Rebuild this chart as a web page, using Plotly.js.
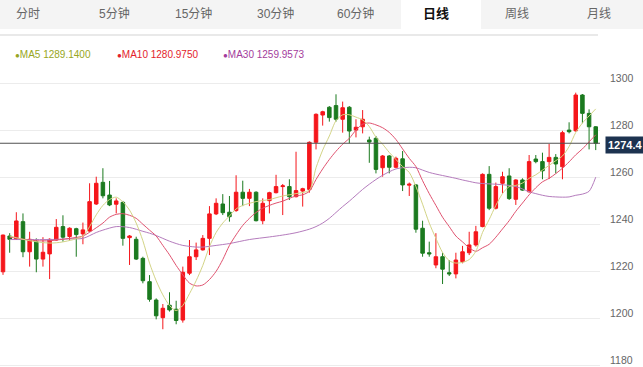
<!DOCTYPE html>
<html>
<head>
<meta charset="utf-8">
<script src="https://cdn.plot.ly/plotly-3.0.1.min.js"></script>
<style>
  html, body { margin: 0; padding: 0; background: #fff; }
  #chart { width: 643px; height: 367px; }
</style>
</head>
<body>
<div id="chart"></div>
<script>
// ---- Tabs & legend text ----
const tabLabels = ["分时", "5分钟", "15分钟", "30分钟", "60分钟", "日线", "周线", "月线"];
const activeTab = "日线";
const legendNames = ["MA5", "MA10", "MA30"];
const legendValues = ["1289.1400", "1280.9750", "1259.9573"];
const yTicks = [1180, 1200, 1220, 1240, 1260, 1280, 1300];
const lastPrice = 1274.4;

// ---- Daily candles (red = up, green = down) ----
const open  = [1219.8,1235.0,1233.6,1241.1,1228.3,1232.6,1225.2,1227.4,1233.3,1239.0,
               1234.8,1238.1,1235.9,1237.1,1248.6,1257.8,1252.4,1248.5,1249.3,1234.3,
               1233.6,1225.5,1215.6,1207.8,1200.3,1205.6,1203.9,1199.3,1219.2,1226.2,
               1229.1,1234.0,1244.4,1248.6,1245.1,1245.8,1253.6,1251.0,1253.6,1241.5,
               1250.0,1253.4,1256.0,1256.0,1251.7,1254.1,1254.8,1274.8,1286.4,1289.7,
               1290.4,1284.6,1289.7,1280.0,1281.4,1275.8,1276.5,1264.0,1269.0,1264.2,
               1267.8,1256.6,1256.7,1238.3,1227.9,1222.7,1226.2,1219.4,1218.9,1224.1,
               1227.9,1231.2,1239.0,1261.2,1246.8,1257.4,1260.5,1250.6,1258.8,1253.8,
               1267.7,1266.6,1266.6,1268.4,1264.4,1280.0,1279.7,1294.9,1287.1,1281.4];
const high  = [1235.6,1236.2,1245.1,1244.6,1236.8,1234.0,1234.5,1234.0,1242.2,1243.8,
               1238.7,1238.5,1240.7,1257.4,1260.2,1263.8,1258.4,1251.0,1249.9,1235.4,
               1234.7,1226.2,1218.4,1208.5,1206.1,1211.1,1207.5,1222.0,1233.3,1232.2,
               1235.4,1247.7,1251.0,1252.8,1252.0,1260.8,1258.5,1255.0,1254.0,1251.0,
               1253.8,1261.0,1257.1,1259.1,1270.8,1255.5,1275.2,1287.1,1288.2,1290.2,
               1295.2,1292.1,1290.2,1284.6,1288.5,1277.2,1277.5,1269.4,1269.4,1268.7,
               1271.1,1257.7,1257.1,1241.5,1232.6,1236.2,1227.9,1224.8,1227.9,1230.8,
               1236.8,1239.3,1261.6,1264.7,1257.7,1262.3,1263.8,1259.1,1259.5,1269.4,
               1269.4,1270.4,1274.1,1269.8,1279.7,1283.3,1295.9,1295.3,1288.8,1281.7];
const low   = [1218.5,1227.9,1233.3,1226.0,1222.0,1219.6,1222.0,1216.7,1233.0,1232.6,
               1233.0,1226.2,1231.5,1236.8,1248.2,1251.0,1247.7,1244.6,1230.9,1222.7,
               1224.8,1214.9,1207.1,1199.6,1195.4,1202.9,1197.5,1198.2,1218.4,1224.8,
               1228.8,1226.9,1243.9,1243.9,1241.1,1245.3,1247.7,1247.7,1241.2,1240.0,
               1244.6,1253.1,1243.9,1250.3,1251.4,1247.5,1253.4,1271.8,1281.9,1283.6,
               1283.6,1278.9,1274.4,1276.9,1278.6,1266.1,1261.6,1260.2,1261.6,1263.8,
               1254.1,1252.0,1236.4,1226.2,1226.2,1221.3,1214.6,1218.0,1217.0,1223.4,
               1226.9,1230.5,1238.7,1246.0,1246.3,1253.1,1250.3,1248.2,1254.2,1253.4,
               1265.9,1259.1,1259.2,1261.6,1259.1,1278.6,1279.3,1282.9,1271.8,1271.5];
const close = [1235.4,1233.6,1241.4,1228.3,1233.6,1225.2,1228.1,1233.6,1238.7,1234.5,
               1238.3,1235.6,1237.6,1249.6,1257.4,1252.1,1248.2,1249.9,1234.0,1235.0,
               1225.2,1216.0,1208.1,1201.1,1204.3,1203.6,1199.1,1219.6,1226.2,1229.1,
               1234.0,1244.4,1248.9,1244.9,1243.2,1253.6,1251.0,1253.6,1241.5,1248.9,
               1253.4,1256.0,1256.3,1251.7,1254.3,1255.1,1274.8,1286.7,1287.8,1285.3,
               1284.6,1289.5,1279.6,1281.2,1284.6,1274.9,1263.3,1269.0,1264.2,1268.0,
               1256.7,1257.0,1237.9,1227.7,1227.4,1226.2,1220.9,1218.9,1224.8,1228.3,
               1231.2,1236.8,1261.2,1246.8,1256.0,1260.2,1250.9,1258.8,1254.5,1266.6,
               1266.6,1262.7,1268.4,1265.6,1278.9,1279.3,1294.9,1287.1,1281.4,1274.4];

// ---- Moving average lines (candle index, value) ----
const ma5X = [1,4,7,9,12,13,14,15,16,17,18,19,20,21,22,23,24,25,26,27,28,29,30,31,32,33,34,35,36,38,40,42,44,46,
              47,48,49,50,51,52,53,54,55,56,57,58,59,60,61,62,63,64,65,66,67,68,69,70,71,72,73,74,75,76,77,78,79,
              80,81,82,83,84,85,86,87,88,89];
const ma5Y = [1235,1233,1232,1232.5,1235,1239,1244,1248,1250.5,1251.5,1249.5,1246,1240.5,1233,1223.5,1216,1210,1205.5,
              1203.3,1205.5,1210.5,1216,1222.5,1230.5,1236.5,1240.5,1243.5,1246.5,1248,1249.6,1250.5,1252,1253,1254.5,
              1264,1271.5,1277.5,1284,1286.5,1286.5,1285.5,1284.3,1281.5,1277,1274,1270.5,1267.5,1264.5,1262,1256,
              1248.5,1240.5,1234,1228,1224.5,1223.5,1223.8,1225,1228.5,1236.5,1242,1248,1253,1256,1256.5,1257.5,1259.5,
              1261,1263,1265,1267,1269,1273,1279,1283,1286,1289];
const ma10X = [1,5,7,10,12,14,15,16,17,18,19,20,21,22,23,24,25,26,27,28,29,30,31,32,33,34,35,36,37,38,39,40,41,42,43,
               44,45,46,47,48,49,50,51,52,53,54,55,56,57,58,59,60,61,62,63,64,65,66,67,68,69,70,71,72,73,74,75,76,77,
               78,79,80,81,82,83,84,85,86,87,88,89];
const ma10Y = [1234.5,1233,1233,1234,1235,1238.5,1240.5,1243,1244.2,1244.5,1243.8,1242.5,1240,1237.5,1235,1231,1227,
               1222.5,1218.5,1215,1213.8,1214.2,1216.5,1220,1225,1231,1235.5,1239.5,1242.5,1245,1246.8,1248,1249,1249.8,
               1251,1252,1252.5,1254,1259,1263.5,1267.5,1271,1274,1276.5,1280,1282.5,1283,1282.2,1281,1279,1276,1272,
               1268,1264.5,1258.5,1253,1248,1243,1239,1235,1232.5,1230,1228.5,1230,1231.5,1234.5,1238,1241.5,1245.5,
               1249,1252.5,1255.5,1258,1259.5,1261.5,1263.8,1266.5,1269.5,1272,1275,1278];
const ma30X = [1,4,7,10,12,14,15,17,19,21,22,23,24,25,26,27,28,29,30,32,34,37,40,42,44,46,47,48,49,50,51,52,53,54,55,
               56,57,58,59,60,61,62,63,64,65,66,67,68,69,70,71,72,74,76,77,78,79,80,81,82,83,84,85,86,87,88,89];
const ma30Y = [1233.5,1233.5,1233.5,1233.8,1234,1236.5,1237.5,1239,1238.6,1237,1236.2,1235.2,1234,1232.8,1231.8,1231,
               1230.6,1230.3,1230.3,1231,1231.8,1233.5,1234.6,1235.4,1236.4,1237.9,1239,1240.5,1242.5,1245,1247.5,1249.8,
               1252.3,1254.8,1257,1259,1260.8,1262.3,1263.5,1264,1264.2,1264,1263,1262,1261.3,1260.7,1260.1,1259.5,1258.8,
               1258.2,1257.6,1257.3,1257,1256.5,1256,1255,1253.8,1253,1252.3,1251.8,1251.6,1251.5,1251.6,1252.3,1252.8,
               1254,1260];

// ---- Styles ----
const UP = "#f5161b", DOWN = "#1b7a1f";
const lineColors = ["#d3d486", "#e0526f", "#b57cbd"];
const legendColors = ["#97a623", "#e3222b", "#a33c9c"];

// ---- Layout geometry (pixels) ----
const W = 643, H = 367;
const M = { l: 0, r: 43, t: 40, b: 0 };
const plotW = W - M.l - M.r, plotH = H - M.t - M.b;
const px = x => (x - M.l) / plotW;          // pixel x -> paper x
const py = y => (H - M.b - y) / plotH;      // pixel y -> paper y

const idx = open.map((_, i) => i);

const traces = [
  {
    type: "candlestick", x: idx, open: open, high: high, low: low, close: close,
    increasing: { line: { color: UP, width: 1 }, fillcolor: UP },
    decreasing: { line: { color: DOWN, width: 1 }, fillcolor: DOWN },
    whiskerwidth: 0, hoverinfo: "skip", showlegend: false
  },
  { type: "scatter", mode: "lines", x: ma30X, y: ma30Y, line: { color: lineColors[2], width: 1, shape: "spline", smoothing: 0.8 }, hoverinfo: "skip", showlegend: false },
  { type: "scatter", mode: "lines", x: ma10X, y: ma10Y, line: { color: lineColors[1], width: 1, shape: "spline", smoothing: 0.8 }, hoverinfo: "skip", showlegend: false },
  { type: "scatter", mode: "lines", x: ma5X, y: ma5Y, line: { color: lineColors[0], width: 1, shape: "spline", smoothing: 0.8 }, hoverinfo: "skip", showlegend: false }
];

const tabCenters = [28, 114, 194, 275, 355, 436, 517, 599];
const shapes = [
  { type: "rect", xref: "paper", yref: "paper", x0: px(0), x1: px(W), y0: py(0), y1: py(29), fillcolor: "#f4f4f4", line: { width: 0 }, layer: "below" },
  { type: "rect", xref: "paper", yref: "paper", x0: px(401), x1: px(481), y0: py(0), y1: py(29), fillcolor: "#ffffff", line: { width: 0 }, layer: "below" },
  { type: "line", xref: "paper", yref: "paper", x0: px(0), x1: px(598), y0: py(35), y1: py(35), line: { color: "#e9e9e9", width: 2 } },
  { type: "line", xref: "paper", yref: "y", x0: 0, x1: 1, y0: lastPrice, y1: lastPrice, line: { color: "#505050", width: 1.2 } }
];

const annotations = [];
tabLabels.forEach((t, i) => {
  const active = t === activeTab;
  annotations.push({
    xref: "paper", yref: "paper", x: px(tabCenters[i]), y: py(14), xanchor: "center", yanchor: "middle",
    text: t, showarrow: false,
    font: { family: "Liberation Sans, Noto Sans CJK SC, sans-serif", size: active ? 13 : 12, color: active ? "#111" : "#666", weight: active ? 600 : 400 }
  });
});
const legendX = [13, 115, 221];
legendNames.forEach((n, i) => {
  annotations.push({
    xref: "paper", yref: "paper", x: px(legendX[i]), y: py(54), xanchor: "left", yanchor: "middle",
    text: '<span style="font-size:8px">●</span>' + n + " " + legendValues[i], showarrow: false,
    font: { family: "Liberation Sans, DejaVu Sans, sans-serif", size: 10, color: legendColors[i] }
  });
});
annotations.push({
  xref: "paper", yref: "y", x: px(626), y: lastPrice, yshift: -2, xanchor: "center", yanchor: "middle",
  text: lastPrice.toFixed(1), showarrow: false, bgcolor: "#1d3350", borderpad: 2,
  font: { family: "Liberation Sans, sans-serif", size: 11, color: "#ffffff", weight: 600 }
});

const layout = {
  width: W, height: H,
  margin: M,
  paper_bgcolor: "#ffffff", plot_bgcolor: "#ffffff",
  showlegend: false,
  boxgap: 0.25,
  xaxis: { range: [-0.45, 89.64], showgrid: false, zeroline: false, showticklabels: false, showline: false, ticks: "", rangeslider: { visible: false }, fixedrange: true },
  yaxis: {
    side: "right", range: [1179.35, 1318.27], tickvals: yTicks, ticktext: yTicks.map(String),
    showgrid: true, gridcolor: "#ececec", gridwidth: 1, zeroline: false, showline: false, ticks: "",
    ticklabelshift: -5, ticklabelstandoff: 9,
    tickfont: { family: "Liberation Sans, DejaVu Sans, sans-serif", size: 10.5, color: "#666" }, fixedrange: true
  },
  shapes: shapes,
  annotations: annotations
};

Plotly.newPlot("chart", traces, layout, { displayModeBar: false, staticPlot: true });
</script>
</body>
</html>
